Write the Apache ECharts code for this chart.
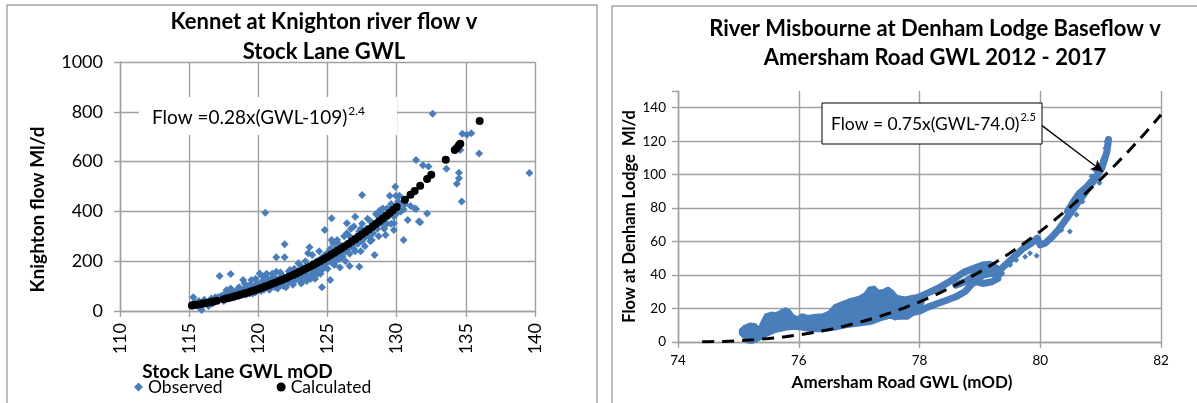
<!DOCTYPE html>
<html><head><meta charset="utf-8">
<script src="https://cdn.jsdelivr.net/npm/echarts@6/dist/echarts.min.js"></script>
<style>html,body{margin:0;padding:0;background:#fff}#c{width:1197px;height:403px}</style>
</head><body><div id="c"></div>
<script>
// ---------- Left chart: Kennet at Knighton ----------
const kennetTitle = ['Kennet at Knighton river flow v', 'Stock Lane GWL'];
const kennetXName = 'Stock Lane GWL mOD';
const kennetYName = 'Knighton flow Ml/d';
const kennetEquation = ['Flow =0.28x(GWL-109)', '2.4'];
// observed [GWL mOD, flow Ml/d]
const kennetObserved = [
[115.3,55],[115.4,35],[115.5,30],[115.6,20],[115.7,40],[115.8,15],[115.9,4],[116.0,25],[116.1,45],[116.2,30],[116.4,20],[116.5,35],[116.6,50],[116.8,40],[116.9,55],
[117.0,45],[117.2,141],[117.3,60],[117.4,50],[117.5,40],[117.6,70],[117.7,84],[117.8,60],[117.9,50],[118.0,149],[118.0,90],[118.1,65],[118.2,75],[118.3,55],[118.4,80],[118.5,70],[118.6,60],[118.7,85],[118.8,75],[118.9,125],[119.0,90],[119.1,65],[119.2,80],[119.3,95],[119.4,70],[119.5,125],[119.6,85],[119.7,100],[119.8,75],[119.9,110],[120.0,90],[120.1,151],[120.2,80],[120.3,120],[120.4,105],[120.5,395],[120.5,95],[120.6,135],[120.7,110],[120.8,85],[120.9,125],[121.0,100],[121.1,140],[121.2,115],[121.3,216],[121.3,158],[121.4,90],[121.5,130],[121.6,105],[121.7,145],[121.8,120],[121.9,268],[121.9,216],[122.0,95],[122.1,140],[122.2,115],[122.3,165],[122.4,130],[122.5,105],[122.6,150],[122.7,125],[122.8,160],[122.9,192],[123.0,140],[123.1,110],[123.2,170],[123.3,130],[123.4,155],[123.5,120],[123.6,232],[123.7,256],[123.7,175],[123.8,145],[123.9,190],[124.0,160],[124.1,130],[124.2,200],[124.3,150],[124.4,175],[124.5,210],[124.6,95],[124.6,165],[124.7,190],[124.8,325],[124.8,225],[124.9,191],[125.0,170],[125.1,240],[125.2,125],[125.2,200],[125.3,372],[125.3,285],[125.4,272],[125.4,215],[125.5,185],[125.6,250],[125.7,285],[125.7,205],[125.8,230],[125.9,175],[126.0,260],[126.1,220],[126.2,300],[126.3,240],[126.4,352],[126.4,312],[126.5,270],[126.6,181],[126.6,230],[126.7,330],[126.8,290],[126.9,339],[126.9,250],[127.0,379],[127.1,300],[127.2,270],[127.3,178],[127.3,320],[127.4,240],[127.5,466],[127.5,350],[127.6,290],[127.7,260],[127.8,330],[127.9,370],[128.0,300],[128.1,280],[128.2,285],[128.3,312],[128.4,225],[128.4,350],[128.5,390],[128.6,330],[128.7,300],[128.8,405],[128.9,392],[129.0,412],[129.0,360],[129.1,330],[129.2,305],[129.3,412],[129.4,380],[129.5,463],[129.6,350],[129.7,420],[129.8,325],[129.8,352],[129.9,499],[129.95,463],[130.0,392],[130.1,440],[130.2,463],[130.3,400],[130.5,285],[130.5,408],[130.6,430],[130.8,365],[131.0,422],[131.3,412],[131.4,410],[131.4,606],[131.6,359],[131.7,356],[131.9,585],[132.2,392],[132.3,580],[132.6,792],[133.6,571],[134.35,511],[134.5,555],[134.5,533],[134.6,647],[134.7,440],[134.75,712],[135.07,708],[135.4,714],[135.96,633],[139.6,554],
[118.2,60],[118.5,80],[118.8,65],[119.1,95],[119.3,75],[119.6,70],[119.9,95],[120.2,105],[120.4,85],[120.7,125],[120.9,100],[121.2,95],[121.5,115],[121.8,100],[122.0,125],[122.3,120],[122.5,135],[122.8,140],[123.0,125],[123.2,145],[123.5,140],[123.8,130],[124.0,145],[124.3,170],[124.5,150],[124.8,180],[125.0,200],[125.3,195],[125.6,215],[125.9,210],[126.1,240],[126.3,200],[126.5,250],[126.8,260],[127.0,240],[127.2,290],[127.5,280],[127.8,300],[128.0,320],[128.3,340],[128.6,360],[128.9,350],[129.2,380],[129.5,400],[129.8,380],[130.1,400],[130.3,430],[116.7,30],[117.1,55],[117.5,60],[117.9,70],[118.6,95],[119.0,110],[119.4,105],[119.8,130],[120.3,140],[120.6,150],[121.0,150],[121.6,155],[122.2,160],[122.6,170],[123.1,180],[123.4,200],[123.9,225],[124.4,240],[125.2,250],[125.8,270],[126.6,300],[127.4,330],[128.1,360],[128.7,380],[129.3,350],[129.6,430]
];
// calculated curve points
const kennetCalcGWL = [115.2,115.25,115.5,115.75,116,116.25,116.5,116.75,117,117.5,117.75,118,118.25,118.5,118.75,119,119.25,119.5,119.75,120,120.25,120.5,120.75,121,121.25,121.5,121.75,122,122.25,122.5,122.75,123,123.25,123.5,123.75,124,124.25,124.5,124.75,125,125.25,125.5,125.75,126,126.25,126.5,126.75,127,127.25,127.5,127.75,128,128.25,128.5,128.75,129,129.25,129.5,129.75,130,130.6,131.0,131.3,131.7,132.2,132.5,133.55,134.2,134.35,134.5,134.6,136];
const kennetCalcFlow = [22.3,22.8,25.0,27.3,29.9,32.4,35.2,38.1,41.2,47.6,51.0,54.6,58.3,62.2,66.1,70.3,74.6,79.1,83.6,88.4,93.3,98.4,103.6,109.0,114.4,120.1,125.9,132.0,138.1,144.5,151.0,157.7,164.5,171.5,178.6,186.0,193.5,201.3,209.1,217.3,225.5,233.9,242.5,251.4,260.2,269.4,278.7,288.3,298.0,308.0,318.0,328.4,338.8,349.4,360.2,371.3,382.3,393.7,405.3,417.2,446.4,466.5,482,503,530,546.8,607,646.6,655,665.6,672,763];

// ---------- Right chart: River Misbourne ----------
const misTitle = ['River Misbourne at Denham Lodge Baseflow v', 'Amersham Road GWL 2012 - 2017'];
const misXName = 'Amersham Road GWL (mOD)';
const misYName = 'Flow at Denham Lodge  Ml/d';
const misEquation = ['Flow = 0.75x(GWL-74.0)', '2.5'];
// outline of the dense observed cloud (upper edge left->right, lower edge right->left)
const misCloudUpper = [[75.04,7],[75.1,9],[75.2,10.5],[75.28,10],[75.34,7],[75.4,12],[75.46,16],[75.55,17],[75.62,16.5],[75.7,18],[75.78,19.5],[75.84,18.5],[75.9,15.5],[75.98,14],[76.05,16],[76.15,15],[76.25,15.5],[76.4,16],[76.5,17.5],[76.6,21.5],[76.7,23],[76.85,25],[77.0,26.5],[77.1,28.5],[77.17,32],[77.25,32.5],[77.32,30],[77.4,30.5],[77.48,32],[77.55,30],[77.62,27],[77.75,26],[77.9,27],[78.05,28]];
const misCloudLower = [[78.05,23],[77.9,17],[77.8,14.5],[77.65,14.5],[77.5,15],[77.35,13.5],[77.2,11.5],[77.0,10.5],[76.8,9.5],[76.6,8],[76.4,7],[76.2,7],[76.05,8],[75.95,8.5],[75.8,8],[75.6,6.5],[75.48,4.5],[75.4,3],[75.3,1],[75.22,0],[75.14,0.5],[75.1,3],[75.04,5]];
// observed traces (daily points forming continuous bands)
const misTraceA = [[77.85,24],[78.0,27],[78.15,29.5],[78.3,32],[78.45,35],[78.6,38.5],[78.75,42],[78.9,44],[79.05,46],[79.17,46.5],[79.28,44],[79.35,41]];
const misTraceB = [[77.6,15],[77.8,17],[78.0,18.5],[78.15,21],[78.3,23],[78.45,25],[78.6,27],[78.75,30],[78.85,34],[78.95,37],[79.05,40],[79.2,41],[79.3,40]];
const misTraceC = [[78.6,34],[78.75,36],[78.85,38],[78.95,42],[79.1,44],[79.25,42],[79.3,38],[79.2,36],[79.05,35],[78.95,36]];
const misTraceD = [[79.3,42],[79.45,47],[79.6,52],[79.72,56],[79.85,59],[79.95,62],[80.0,58],[80.08,59],[80.2,63],[80.3,67],[80.4,72],[80.5,77],[80.6,82],[80.7,87],[80.8,92],[80.9,97],[81.0,103],[81.05,108],[81.1,113],[81.12,118],[81.13,121]];
const misTraceE = [[80.45,78],[80.55,84],[80.65,89],[80.75,92],[80.85,96],[80.95,100],[81.02,104],[81.07,110]];
const misScatter = [[75.99,14],[79.75,51],[79.83,53],[79.94,51.5],[80.35,67],[80.49,66],[80.6,76],[80.77,90],[80.85,99],[80.9,103],[79.5,46],[79.6,49],[81.1,120],[81.08,116],[80.98,95],[80.7,84]];
// fitted curve points
const misFitGWL  = [74.4,74.5,74.75,75,75.25,75.5,75.75,76,76.25,76.5,76.75,77,77.25,77.5,77.75,78,78.25,78.5,78.75,79,79.25,79.5,79.75,80,80.25,80.5,80.75,81,81.25,81.5,81.75,82];
const misFitFlow = [0.08,0.13,0.37,0.75,1.31,2.07,3.04,4.24,5.70,7.41,9.41,11.69,14.28,17.19,20.42,24.0,27.93,32.22,36.88,41.93,47.37,53.2,59.46,66.1,73.24,80.8,88.8,97.2,106.1,115.5,125.4,135.8];
const misArrow = [[80.03,129.3],[81.04,101.7]];

const BLUE = '#4a7ebb';
const GRID = '#a0a0a0';
const FONT = 'Lato';

function zip(a,b){ return a.map((v,i)=>[v,b[i]]); }

const chart = echarts.init(document.getElementById('c'), null, {renderer:'canvas'});

const axisCommon = (fs) => ({
  axisLine:{show:true,onZero:false,lineStyle:{color:GRID,width:1.4}},
  axisTick:{show:true,inside:false,length:6,lineStyle:{color:GRID,width:1.4}},
  splitLine:{show:true,lineStyle:{color:GRID,width:1.4}},
  axisLabel:{color:'#000',fontFamily:FONT,fontSize:fs,formatter:(v)=>String(v)},
  nameTextStyle:{color:'#000',fontFamily:FONT,fontWeight:'bold'}
});

function merge(a,b){ const o=Object.assign({},a); for(const k in b){ if(o[k]&&typeof o[k]==='object'&&!Array.isArray(o[k])&&typeof b[k]==='object'&&!Array.isArray(b[k])) o[k]=merge(o[k],b[k]); else o[k]=b[k]; } return o; }

const option = {
  animation:false,
  backgroundColor:'#fff',
  grid:[
    {left:120,top:62,width:415,height:249,containLabel:false,outerBoundsMode:'none'},
    {left:678,top:91,width:483,height:251,containLabel:false,outerBoundsMode:'none'}
  ],
  xAxis:[
    merge(axisCommon(18),{gridIndex:0,type:'value',min:110,max:140,interval:5,
      axisLabel:{rotate:90,margin:12},
      name:kennetXName,nameLocation:'middle',nameGap:50,
      nameTextStyle:{fontSize:19,padding:[0,180,0,0]}}),
    merge(axisCommon(13.5),{gridIndex:1,type:'value',min:74,max:82,interval:2,
      axisLabel:{margin:12},
      name:misXName,nameLocation:'middle',nameGap:32,
      nameTextStyle:{fontSize:17,padding:[0,35,0,0]}})
  ],
  yAxis:[
    merge(axisCommon(18),{gridIndex:0,type:'value',min:0,max:1000,interval:200,
      axisLabel:{margin:17},
      name:kennetYName,nameLocation:'middle',nameGap:73,
      nameTextStyle:{fontSize:19,padding:[0,46,0,0]}}),
    merge(axisCommon(13.5),{gridIndex:1,type:'value',min:0,max:150,interval:20,
      axisLabel:{margin:12,formatter:(v)=> v>145 ? '' : String(v)},
      splitLine:{showMaxLine:false},
      name:misYName,nameLocation:'middle',nameGap:34,
      nameTextStyle:{fontSize:16.5}})
  ],
  legend:{
    data:['Observed','Calculated'],
    left:129, top:373, itemGap:54, itemWidth:9, itemHeight:9,
    textStyle:{fontFamily:FONT,fontSize:17.5,color:'#000'},
    selectedMode:false
  },
  series:[
    {name:'Observed',type:'scatter',xAxisIndex:0,yAxisIndex:0,symbol:'diamond',symbolSize:8,
      itemStyle:{color:BLUE,opacity:1},data:kennetObserved,z:2},
    {name:'Calculated',type:'scatter',xAxisIndex:0,yAxisIndex:0,symbol:'circle',symbolSize:8,
      itemStyle:{color:'#000',opacity:1},data:zip(kennetCalcGWL,kennetCalcFlow),z:3},
    {type:'custom',xAxisIndex:1,yAxisIndex:1,data:[0],z:2,silent:true,
      renderItem:function(params,api){
        const pts = misCloudUpper.concat(misCloudLower).map(p=>api.coord(p));
        return {type:'polygon',shape:{points:pts},
          style:{fill:BLUE,stroke:BLUE,lineWidth:4,lineJoin:'round'}};
      }},
    ...[misTraceA,misTraceB,misTraceC,misTraceD,misTraceE].map(tr=>({
      type:'line',xAxisIndex:1,yAxisIndex:1,data:tr,showSymbol:false,symbol:'none',z:2,silent:true,
      lineStyle:{color:BLUE,width:7,cap:'round',join:'round'}})),
    {type:'scatter',xAxisIndex:1,yAxisIndex:1,symbol:'diamond',symbolSize:6,
      itemStyle:{color:BLUE,opacity:1},data:misScatter,z:2},
    {type:'line',xAxisIndex:1,yAxisIndex:1,data:zip(misFitGWL,misFitFlow),showSymbol:false,symbol:'none',
      smooth:false,z:4,silent:true,
      lineStyle:{color:'#000',width:3,type:[12,8]},
      markLine:{silent:true,symbol:['none','arrow'],symbolSize:[9,12],animation:false,
        label:{show:false},lineStyle:{color:'#000',width:1.3,type:'solid'},
        data:[[{coord:misArrow[0]},{coord:misArrow[1]}]]}}
  ],
  graphic:[
    {type:'rect',shape:{x:7,y:5,width:590,height:420},style:{fill:'none',stroke:'#a6a6a6',lineWidth:1.5},z:100},
    {type:'rect',shape:{x:612,y:6,width:600,height:420},style:{fill:'none',stroke:'#a6a6a6',lineWidth:1.5},z:100},
    {type:'text',x:324,y:22,style:{text:kennetTitle[0],fontFamily:FONT,fontWeight:'bold',fontSize:22,fill:'#000',align:'center',verticalAlign:'middle'},z:100},
    {type:'text',x:324,y:52,style:{text:kennetTitle[1],fontFamily:FONT,fontWeight:'bold',fontSize:22,fill:'#000',align:'center',verticalAlign:'middle'},z:100},
    {type:'text',x:935,y:29,style:{text:misTitle[0],fontFamily:FONT,fontWeight:'bold',fontSize:22,fill:'#000',align:'center',verticalAlign:'middle'},z:100},
    {type:'text',x:935,y:58,style:{text:misTitle[1],fontFamily:FONT,fontWeight:'bold',fontSize:22,fill:'#000',align:'center',verticalAlign:'middle'},z:100},
    {type:'rect',shape:{x:139,y:97,width:258,height:38},style:{fill:'#fff',stroke:'none'},z:100},
    {type:'text',x:152,y:118,z:101,style:{
      text:'{a|'+kennetEquation[0]+'}{s|'+kennetEquation[1]+'}',
      verticalAlign:'middle',align:'left',
      rich:{a:{fontFamily:FONT,fontSize:19,fill:'#000'},s:{fontFamily:FONT,fontSize:12,fill:'#000',padding:[0,0,14,1]}}}},
    {type:'rect',shape:{x:822,y:103,width:220,height:41},style:{fill:'#fff',stroke:'#000',lineWidth:1},z:100},
    {type:'text',x:831,y:124,z:101,style:{
      text:'{a|'+misEquation[0]+'}{s|'+misEquation[1]+'}',
      verticalAlign:'middle',align:'left',
      rich:{a:{fontFamily:FONT,fontSize:17.5,fill:'#000'},s:{fontFamily:FONT,fontSize:11,fill:'#000',padding:[0,0,13,1]}}}}
  ]
};
chart.setOption(option);
</script>
</body></html>
